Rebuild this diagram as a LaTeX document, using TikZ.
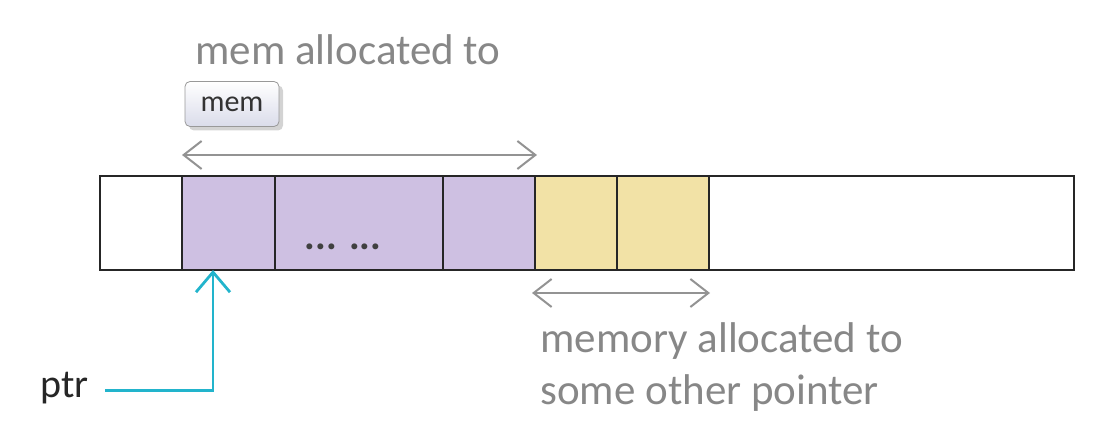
\documentclass[tikz,border=0pt]{standalone}
\usepackage{fontspec}
\setmainfont{Carlito}
\usetikzlibrary{calc, arrows.meta, shadows}

\definecolor{memPurple}{RGB}{206,192,226}
\definecolor{otherYellow}{RGB}{242,226,166}
\definecolor{noteGray}{RGB}{135,135,135}
\definecolor{ptrCyan}{RGB}{34,180,204}
\definecolor{btnBottom}{RGB}{218,220,234}

\begin{document}
\begin{tikzpicture}[x=0.5pt, y=-0.5pt,
    cell/.style = {draw=black!85, line width=1.3pt},
    note/.style = {text=noteGray, font=\fontsize{21.5}{26}\selectfont, inner sep=0pt},
    span/.style = {draw=noteGray!90, line width=1pt, {Straight Barb[length=9pt, width=14pt]}-{Straight Barb[length=9pt, width=14pt]}},
    ptrarrow/.style = {draw=ptrCyan, line width=1.4pt, -{Straight Barb[length=10pt, width=17pt]}},
    button/.style = {draw=gray!80, rounded corners=2.5pt, top color=white, bottom color=btnBottom,
        minimum width=47pt, minimum height=22.5pt, inner sep=0pt, font=\fontsize{15}{18}\selectfont,
        text=black!80, drop shadow={shadow xshift=2pt, shadow yshift=-2pt, opacity=0.35, fill=gray}}]
    \useasboundingbox (0,0) rectangle (1120,448);
    \def\yTop{176}
    \def\yBot{270}

    %memory strip
    \foreach \xa/\xb/\fillc in {100/182/white, 182/275/memPurple, 275/443/memPurple, 443/535/memPurple,
        535/617/otherYellow, 617/709/otherYellow, 709/1074/white}
        \draw[cell, fill=\fillc] (\xa,\yTop) rectangle (\xb,\yBot);
    \node[font=\bfseries\fontsize{20}{24}\selectfont, text=black!75, anchor=base, inner sep=0pt] (dots) at (343,250) {... ...};

    %span coordinates
    \coordinate (memL) at (182,155);
    \coordinate (memR) at (537,155);
    \coordinate (otherL) at (532,293);
    \coordinate (otherR) at (710,293);
    \coordinate (ptrTip) at (213,\yBot);

    \draw[span] (memL) -- (memR);
    \draw[span] (otherL) -- (otherR);

    %labels
    \node[note, anchor=base west] (memLabel) at (195,65) {mem allocated to};
    \node[button] (memBtn) at (232,104) {mem};
    \node[note, anchor=base west, align=left] (otherLabel) at (540,405) {memory allocated to\\some other pointer};
    \node[note, text=black!85, anchor=base west, font=\fontsize{20}{24}\selectfont] (ptr) at (40,398) {ptr};

    %pointer
    \draw[ptrarrow] ([xshift=8pt, yshift=-1pt]ptr.east) -| (ptrTip);
\end{tikzpicture}
\end{document}
